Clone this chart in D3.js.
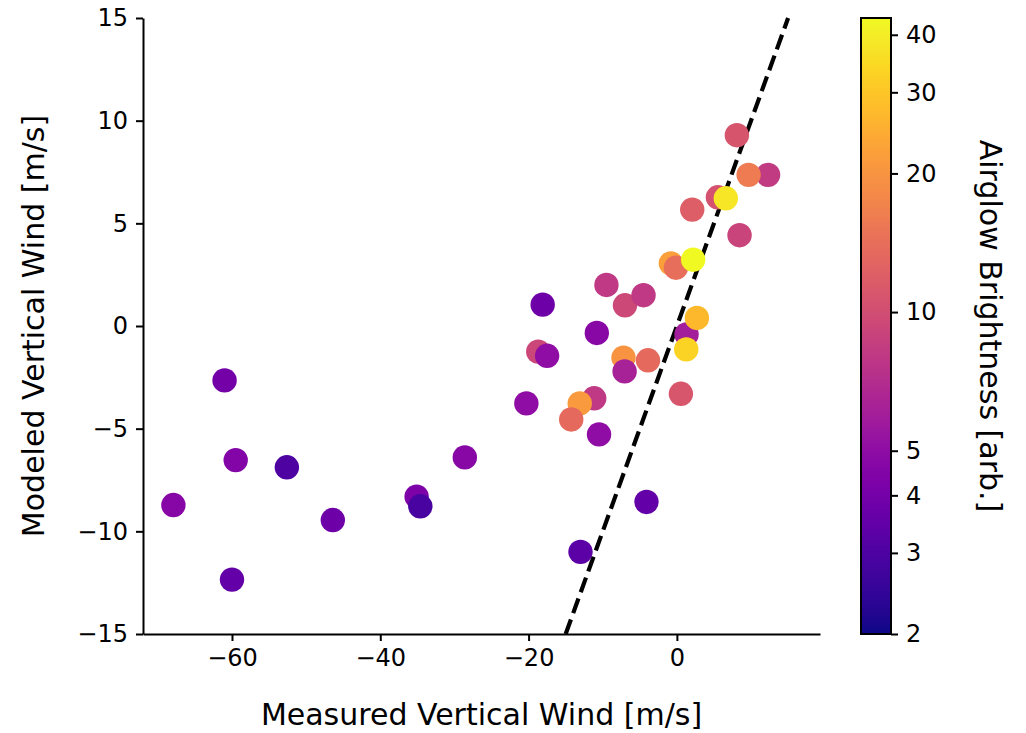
<!DOCTYPE html>
<html>
<head>
<meta charset="utf-8">
<script src="https://cdn.jsdelivr.net/npm/d3@7"></script>
<style>
  html, body { margin: 0; padding: 0; background: #fff; }
  svg { display: block; font-family: "DejaVu Sans", sans-serif; }
</style>
</head>
<body>
<svg id="chart" width="1026" height="733"></svg>
<script>
// Measured vs. modeled vertical wind, coloured by airglow brightness
const measured = [
  -61.0, -59.5, -52.6, -67.9, -46.4, -60.0, -28.6, -35.1, -34.6,
  -10.5, -4.1, -13.0, -18.1, -10.8, -18.7, -17.5, -9.5, -7.0, -4.5,
  -7.2, -3.9, -7.05, -20.3, -11.15, -13.1, -14.25,
  8.09, 12.3, 9.67, 5.53, 6.6, 2.07, 8.45, -0.81, -0.13, 2.2,
  1.3, 2.7, 1.26, 0.54
];
const modeled = [
  -2.65, -6.53, -6.88, -8.72, -9.45, -12.35, -6.40, -8.31, -8.78,
  -5.28, -8.57, -11.0, 1.04, -0.34, -1.25, -1.45, 2.0, 1.01, 1.50,
  -1.54, -1.67, -2.21, -3.77, -3.52, -3.77, -4.55,
  9.29, 7.36, 7.36, 6.27, 6.22, 5.67, 4.42, 3.05, 2.84, 3.23,
  -0.41, 0.39, -1.14, -3.30
];
const brightness = [
  4.0, 4.5, 3.0, 4.6, 3.8, 3.5, 4.7, 4.3, 2.9,
  5.0, 3.5, 3.3, 3.8, 4.7, 9.3, 5.0, 8.0, 9.5, 8.0,
  20, 13.5, 6.2, 5.0, 8.0, 21, 13.5,
  10.8, 8.2, 16, 10.5, 38, 12, 9, 22, 14, 43,
  6.0, 27, 33, 11
];
const xTicks = [-60, -40, -20, 0];
const yTicks = [-15, -10, -5, 0, 5, 10, 15];
const cTicks = [2, 3, 4, 5, 10, 20, 30, 40];
const identity = [-15, 15];

const svg = d3.select("#chart");
const plot = { left: 143, right: 820, top: 18, bottom: 634 };
const cbar = { left: 861, width: 30 };

const x = d3.scaleLinear().domain([-72.0, 19.3]).range([plot.left, plot.right]);
const y = d3.scaleLinear().domain([-15, 15]).range([plot.bottom, plot.top]);
const c = d3.scaleLog().domain([2, 43.5]).range([plot.bottom, plot.top]);
const colour = v => d3.interpolatePlasma((c(v) - plot.bottom) / (plot.top - plot.bottom));

// one-to-one reference line
svg.append("line")
  .attr("x1", x(identity[0])).attr("y1", y(identity[0]))
  .attr("x2", x(identity[1])).attr("y2", y(identity[1]))
  .attr("stroke", "#000").attr("stroke-width", 4.2)
  .attr("stroke-dasharray", "15.5,6.7");

// scatter points
const pts = d3.range(measured.length);
svg.append("g").selectAll("circle").data(pts).join("circle")
  .attr("cx", i => x(measured[i]))
  .attr("cy", i => y(modeled[i]))
  .attr("r", 12.2)
  .attr("fill", i => colour(brightness[i]));

// axes
const tickFont = 24;
const labelFont = 30;
const xAxis = svg.append("g")
  .attr("transform", `translate(0,${plot.bottom})`)
  .call(d3.axisBottom(x).tickValues(xTicks).tickSize(7).tickPadding(8).tickSizeOuter(0));
const yAxis = svg.append("g")
  .attr("transform", `translate(${plot.left},0)`)
  .call(d3.axisLeft(y).tickValues(yTicks).tickSize(7).tickPadding(8).tickSizeOuter(0));
[xAxis, yAxis].forEach(a => {
  a.select(".domain").attr("stroke", "#000").attr("stroke-width", 2);
  a.selectAll(".tick line").attr("stroke", "#000").attr("stroke-width", 2);
  a.selectAll(".tick text").attr("fill", "#000")
    .style("font-size", tickFont + "px").style("font-family", "DejaVu Sans");
});

svg.append("text")
  .attr("x", (plot.left + plot.right) / 2).attr("y", 725)
  .attr("text-anchor", "middle").style("font-size", labelFont + "px")
  .text("Measured Vertical Wind [m/s]");
svg.append("text")
  .attr("transform", `translate(44,${(plot.top + plot.bottom) / 2}) rotate(-90)`)
  .attr("text-anchor", "middle").style("font-size", labelFont + "px")
  .text("Modeled Vertical Wind [m/s]");

// colour bar
const defs = svg.append("defs");
const grad = defs.append("linearGradient").attr("id", "plasma")
  .attr("x1", 0).attr("y1", 1).attr("x2", 0).attr("y2", 0);
d3.range(0, 1.0001, 0.02).forEach(t => {
  grad.append("stop").attr("offset", t).attr("stop-color", d3.interpolatePlasma(t));
});
svg.append("rect")
  .attr("x", cbar.left).attr("y", plot.top)
  .attr("width", cbar.width).attr("height", plot.bottom - plot.top)
  .attr("fill", "url(#plasma)").attr("stroke", "#000").attr("stroke-width", 2);
const cAxis = svg.append("g")
  .attr("transform", `translate(${cbar.left + cbar.width},0)`)
  .call(d3.axisRight(c).tickValues(cTicks).tickFormat(d3.format("d")).tickSize(7).tickPadding(8).tickSizeOuter(0));
cAxis.select(".domain").remove();
cAxis.selectAll(".tick line").attr("stroke", "#000").attr("stroke-width", 2);
cAxis.selectAll(".tick text").attr("fill", "#000")
  .style("font-size", tickFont + "px").style("font-family", "DejaVu Sans");

svg.append("text")
  .attr("transform", `translate(980,${(plot.top + plot.bottom) / 2}) rotate(90)`)
  .attr("text-anchor", "middle").style("font-size", labelFont + "px")
  .text("Airglow Brightness [arb.]");
</script>
</body>
</html>
